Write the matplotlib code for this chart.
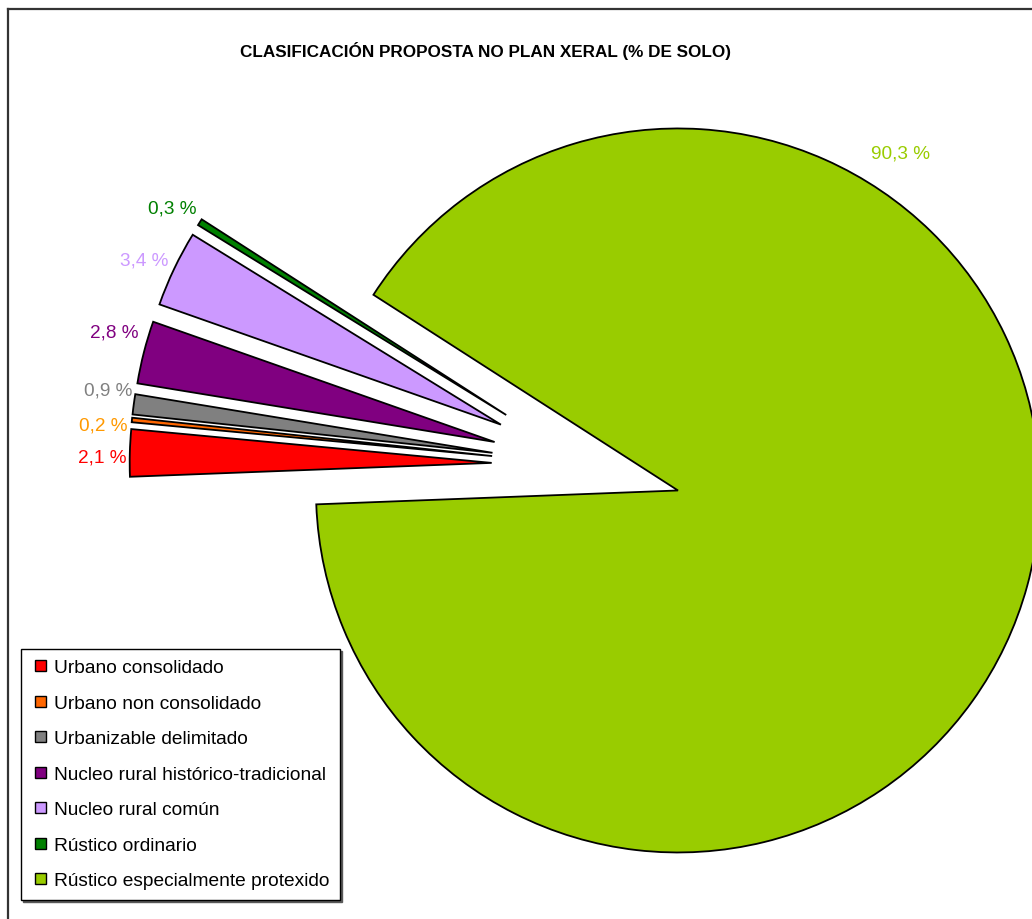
import matplotlib
matplotlib.use("Agg")
import matplotlib.pyplot as plt
from matplotlib.lines import Line2D
from matplotlib.patches import Rectangle, Wedge
from matplotlib.legend_handler import HandlerPatch
import numpy as np

plt.rcParams["font.family"] = ["Liberation Sans", "DejaVu Sans"]

categories = [
    "Urbano consolidado",
    "Urbano non consolidado",
    "Urbanizable delimitado",
    "Nucleo rural histórico-tradicional",
    "Nucleo rural común",
    "Rústico ordinario",
    "Rústico especialmente protexido",
]
shares = [2.1, 0.2, 0.9, 2.8, 3.4, 0.3, 90.3]
pct_labels = ["2,1 %", "0,2 %", "0,9 %", "2,8 %", "3,4 %", "0,3 %", "90,3 %"]

slice_colors = ["#ff0000", "#ff6600", "#808080", "#800080", "#cc99ff", "#008000", "#99cc00"]
text_colors = ["#ff0000", "#ff9900", "#808080", "#800080", "#cc99ff", "#008000", "#99cc00"]

# label placement: angle (deg) and distance (radii) from each exploded wedge centre
label_angle = [179.1, 175.1, 170.1, 162.8, 153.6, 146.2, 56.6]
label_dist = [1.01, 1.01, 1.01, 1.03, 1.025, 1.03, 1.115]

W, H = 1032, 920
fig = plt.figure(figsize=(W / 100, H / 100), dpi=100)
ax = fig.add_axes([0, 0, 1, 1])

wedges, _ = ax.pie(
    shares,
    colors=slice_colors,
    explode=[0.262] * len(shares),
    startangle=182.2,
    counterclock=False,
    radius=1,
    wedgeprops=dict(edgecolor="black", linewidth=1.3),
)

# pie centre sits at (586.5, 466.5) px, radius 362 px
r_px = 362.0
cx_px, cy_px = 586.5, 466.5
ax.set_xlim(-cx_px / r_px, (W - cx_px) / r_px)
ax.set_ylim((cy_px - H) / r_px, cy_px / r_px)
ax.set_axis_off()

for i, w in enumerate(wedges):
    x0, y0 = w.center
    a = np.deg2rad(label_angle[i])
    d = label_dist[i] * w.r
    ha = "center" if i == len(wedges) - 1 else "right"
    ax.text(x0 + d * np.cos(a), y0 + d * np.sin(a), pct_labels[i],
            color=text_colors[i], fontsize=13.7, ha=ha, va="center")

fig.text(485 / W, 1 - 51 / H, "CLASIFICACIÓN PROPOSTA NO PLAN XERAL (% DE SOLO)",
         fontsize=12.3, fontweight="bold", ha="center", va="center")


def square_key(legend, orig_handle, xdescent, ydescent, width, height, fontsize):
    # small square swatch pushed to the right end of the handle box
    side = 11 * 72 / fig.dpi
    return Rectangle((width - side - xdescent, height / 2 - side / 2 - ydescent), side, side)


leg = ax.legend(
    wedges, categories,
    loc="upper left",
    bbox_to_anchor=(20.7 / W, 1 - 650 / H),
    bbox_transform=fig.transFigure,
    borderaxespad=0,
    fontsize=13.75,
    frameon=True,
    fancybox=False,
    shadow={"ox": 1.5, "oy": -1.5, "color": "0.35", "alpha": 1},
    handlelength=0.76,
    handleheight=0.6,
    handletextpad=0.46,
    labelspacing=0.97,
    borderpad=0.54,
    handler_map={Wedge: HandlerPatch(patch_func=square_key)},
)
leg.get_frame().set_edgecolor("black")
leg.get_frame().set_linewidth(1.0)
for h in leg.legend_handles:
    h.set_linewidth(1.0)

# chart area border (top and left edges visible)
fig.add_artist(Line2D([8 / W, 1.0], [1 - 10 / H, 1 - 10 / H], color="#333333", lw=1.6))
fig.add_artist(Line2D([8 / W, 8 / W], [0.0, 1 - 10 / H], color="#333333", lw=1.6))

fig.savefig("out.png", dpi=100)
